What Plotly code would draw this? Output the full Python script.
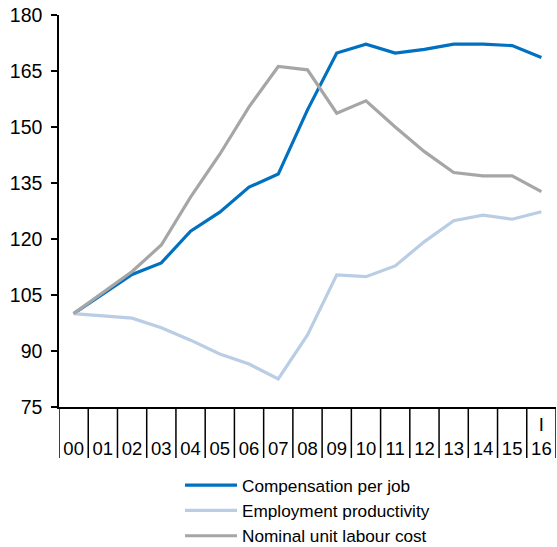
import plotly.graph_objects as go

years = ["00", "01", "02", "03", "04", "05", "06", "07", "08", "09", "10",
         "11", "12", "13", "14", "15", "16"]
tick_text = ["<br>" + y for y in years[:-1]] + ["I<br>16"]

compensation = [100, 105.3, 110.5, 113.6, 122.1, 127.2, 133.9, 137.4, 154.6,
                169.8, 172.2, 169.8, 170.8, 172.2, 172.2, 171.8, 168.6]
productivity = [100, 99.4, 98.8, 96.2, 92.9, 89.2, 86.5, 82.5, 94.3,
                110.4, 109.9, 112.8, 119.3, 124.9, 126.4, 125.3, 127.3]
nulc = [100, 105.6, 111.3, 118.4, 131.2, 142.7, 155.4, 166.2, 165.3,
        153.7, 157.0, 150.0, 143.4, 137.8, 136.9, 136.9, 132.7]

y_ticks = [75, 90, 105, 120, 135, 150, 165, 180]

series = [
    ("Compensation per job", compensation, "#0070C0"),
    ("Employment productivity", productivity, "#B9CDE5"),
    ("Nominal unit labour cost", nulc, "#A6A6A6"),
]

fig = go.Figure()
for name, vals, col in series:
    fig.add_trace(go.Scatter(x=years, y=vals, name=name, mode="lines",
                             line=dict(color=col, width=3.2)))

# category separators below the x axis
for i in range(len(years) + 1):
    fig.add_shape(type="line", xref="x", yref="paper",
                  x0=i - 0.5, x1=i - 0.5, y0=0, y1=-0.13,
                  line=dict(color="black", width=1.5))

fig.update_layout(
    width=557, height=547,
    margin=dict(l=59, r=1, t=15, b=140, autoexpand=False),
    paper_bgcolor="white", plot_bgcolor="white",
    font=dict(family="Liberation Sans, Arial, sans-serif", size=18, color="black"),
    showlegend=True,
    legend=dict(x=0.2435, y=-0.154, xanchor="left", yanchor="top",
                font=dict(size=17.2), itemwidth=52, tracegroupgap=0,
                bgcolor="rgba(0,0,0,0)"),
)
fig.update_xaxes(
    type="category", range=[-0.5, len(years) - 0.5], automargin=False,
    tickmode="array", tickvals=years, ticktext=tick_text,
    ticks="", showgrid=False, showline=True, linecolor="black", linewidth=1.5,
    tickfont=dict(size=18.5), zeroline=False, ticklabeloverflow="allow",
)
fig.update_yaxes(
    range=[75, 180], tickmode="array", tickvals=y_ticks, automargin=False,
    ticks="outside", ticklen=6, tickwidth=1.5, tickcolor="black",
    ticklabelstandoff=5, ticklabeloverflow="allow",
    showgrid=False, showline=True, linecolor="black", linewidth=1.5,
    tickfont=dict(size=19.5), zeroline=False,
)

fig.write_html("out.html",
               config={"displayModeBar": False},
               post_script="document.body.style.margin='0px';"
                           "document.body.style.overflow='hidden';")
